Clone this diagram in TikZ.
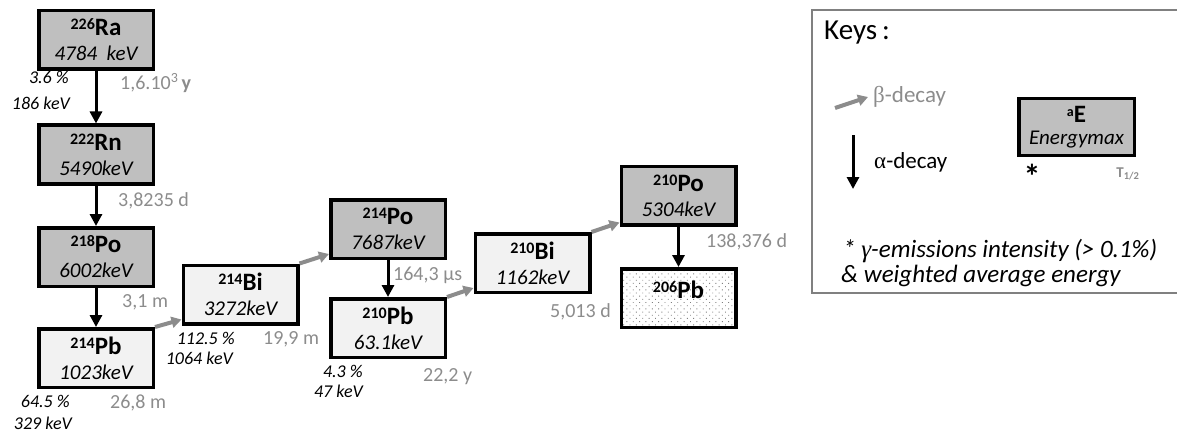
\documentclass[tikz,border=0pt]{standalone}
\usepackage{fontspec}
\setmainfont{Carlito}
\newfontfamily\symfont{Liberation Serif}
\usetikzlibrary{arrows.meta,calc,patterns.meta}
\definecolor{boxgray}{RGB}{191,191,191}
\definecolor{boxlight}{RGB}{242,242,242}
\definecolor{labgray}{RGB}{140,140,140}
\definecolor{keyframe}{RGB}{128,128,128}
\newcommand\isoname[2]{\raisebox{6pt}{\fontsize{16}{16}\selectfont\bfseries #1}{\fontsize{25}{25}\selectfont\bfseries #2}}
\newcommand\isobox[3]{\isoname{#1}{#2}\\{\fontsize{21}{21}\selectfont\itshape #3}}
\begin{document}
\begin{tikzpicture}[x=1pt,y=-1pt,
  nuc/.style={draw=black, line width=3.5pt, minimum width=114.5pt, minimum height=58.5pt, inner sep=0pt, align=center, font=\fontsize{21}{25}\selectfont},
  dark/.style={nuc, fill=boxgray},
  light/.style={nuc, fill=boxlight},
  adecay/.style={-{Triangle[length=12pt,width=12pt]}, line width=3pt, black},
  bdecay/.style={-{Triangle[length=10pt,width=11pt]}, line width=4pt, labgray},
  hl/.style={text=labgray, font=\fontsize{20}{20}\selectfont, inner sep=0pt},
  gl/.style={font=\fontsize{18}{18}\selectfont\itshape, inner sep=0pt},
  kt/.style={anchor=west, inner sep=0pt}]
\useasboundingbox (0,0) rectangle (1177,433);
% nuclide boxes
\node[dark]  (ra)    at (96,40)    {\isobox{226}{Ra}{4784~~keV}};
\node[dark]  (rn)    at (96,154.5) {\isobox{222}{Rn}{5490keV}};
\node[dark]  (po218) at (96,257)   {\isobox{218}{Po}{6002keV}};
\node[light] (pb214) at (96,358)   {\isobox{214}{Pb}{1023keV}};
\node[light] (bi214) at (240.5,294.5) {\isobox{214}{Bi}{3272keV}};
\node[dark]  (po214) at (388,229)  {\isobox{214}{Po}{7687keV}};
\node[light] (pb210) at (388,328)  {\isobox{210}{Pb}{63.1keV}};
\node[light] (bi210) at (532.5,263) {\isobox{210}{Bi}{1162keV}};
\node[dark]  (po210) at (678.5,195.5) {\isobox{210}{Po}{5304keV}};
\node[nuc, preaction={fill=white}, pattern={Dots[distance=4.5pt,radius=0.65pt,angle=45]}, pattern color=gray, text depth=16pt] (pb206) at (678.5,298) {\isoname{206}{Pb}};
% alpha decays
\draw[adecay] (ra) -- (rn);
\draw[adecay] (rn) -- (po218);
\draw[adecay] (po218) -- (pb214);
\draw[adecay] (po214) -- (pb210);
\draw[adecay] (po210) -- (pb206);
% beta decays
\draw[bdecay] (pb214.north east) -- ($(bi214.south west)+(0,-6)$);
\draw[bdecay] (bi214.north east) -- ($(po214.south west)+(0,-6)$);
\draw[bdecay] (pb210.north east) -- ($(bi210.south west)+(0,-6)$);
\draw[bdecay] (bi210.north east) -- ($(po210.south west)+(0,-4)$);
% half-lives
\node[hl, anchor=west] (t1) at (120,83) {1,6.10\textsuperscript{3}\,\textbf{y}};
\node[hl, anchor=west] (t2) at (118,201) {3,8235 d};
\node[hl, anchor=west] (t3) at (122,302) {3,1 m};
\node[hl, anchor=west] (t4) at (110,403) {26,8 m};
\node[hl, anchor=west] (t5) at (263,339) {19,9 m};
\node[hl, anchor=west] (t6) at (393,275) {164,3 µs};
\node[hl, anchor=west] (t7) at (423,377) {22,2 y};
\node[hl, anchor=west] (t8) at (550,312) {5,013 d};
\node[hl, anchor=west] (t9) at (706,242) {138,376 d};
% gamma labels
\node[gl, anchor=east] (g1a) at (69,77)  {3.6 \%};
\node[gl, anchor=east] (g1b) at (70,103) {186 keV};
\node[gl, anchor=east] (g2a) at (70,401) {64.5 \%};
\node[gl, anchor=east] (g2b) at (72,423) {329 keV};
\node[gl, anchor=east] (g3a) at (235,338) {112.5 \%};
\node[gl, anchor=east] (g3b) at (233,358) {1064 keV};
\node[gl, anchor=east] (g4a) at (363,371) {4.3 \%};
\node[gl, anchor=east] (g4b) at (363,391) {47 keV};
% keys
\draw[keyframe, line width=1.5pt] (812,10) rectangle (1190,293);
\node[kt, font=\fontsize{29}{29}\selectfont] (keys) at (824,33) {Keys\,:};
\coordinate (kb1) at (835,108);
\coordinate (kb2) at (868,97);
\draw[bdecay] (kb1) -- (kb2);
\node[kt, text=labgray, font=\fontsize{23}{23}\selectfont] (kbt) at (873,97) {{\symfont β}-decay};
\coordinate (ka1) at (853,135);
\coordinate (ka2) at (853,189);
\draw[adecay] (ka1) -- (ka2);
\node[kt, font=\fontsize{23}{23}\selectfont] (kat) at (874,162) {{\symfont α}-decay};
\node[dark, minimum width=115.5pt, minimum height=56.5pt, font=\fontsize{21}{22}\selectfont] (keybox) at (1076.5,127)
  {\raisebox{6pt}{\fontsize{14}{14}\selectfont\bfseries a}{\fontsize{25}{25}\selectfont\bfseries E}\\{\itshape Energymax}};
\node[inner sep=0pt, font=\fontsize{34}{34}\selectfont\bfseries] (kstar) at (1032,176) {*};
\node[inner sep=0pt, text=labgray, font=\fontsize{15}{15}\selectfont\bfseries] (kt) at (1128,174) {T\textsubscript{1/2}};
\node[kt, font=\fontsize{25}{25}\selectfont\itshape] (kg1) at (843,251) {* {\symfont γ}-emissions intensity (> 0.1\%)};
\node[kt, font=\fontsize{25}{25}\selectfont\itshape] (kg2) at (841,276) {\& weighted average energy};
\end{tikzpicture}
\end{document}
